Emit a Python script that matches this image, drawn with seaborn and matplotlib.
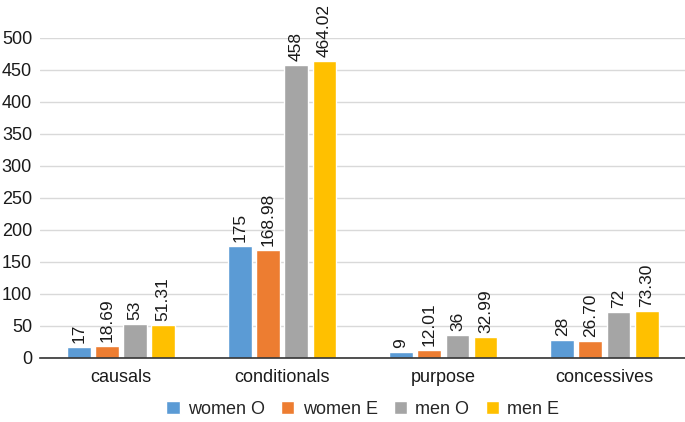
import pandas as pd
import matplotlib.pyplot as plt
import seaborn as sns

sns.set_style("white")
plt.rcParams["font.family"] = ["Liberation Sans", "DejaVu Sans"]

categories = ["causals", "conditionals", "purpose", "concessives"]
series = ["women O", "women E", "men O", "men E"]
women_o = [17, 175, 9, 28]
women_e = [18.69, 168.98, 12.01, 26.70]
men_o = [53, 458, 36, 72]
men_e = [51.31, 464.02, 32.99, 73.30]
labels = {
    "women O": ["17", "175", "9", "28"],
    "women E": ["18.69", "168.98", "12.01", "26.70"],
    "men O": ["53", "458", "36", "72"],
    "men E": ["51.31", "464.02", "32.99", "73.30"],
}
colors = ["#5B9BD5", "#ED7D31", "#A5A5A5", "#FFC000"]
yticks = [0, 50, 100, 150, 200, 250, 300, 350, 400, 450, 500]

rows = []
for name, vals in zip(series, [women_o, women_e, men_o, men_e]):
    for cat, v in zip(categories, vals):
        rows.append({"category": cat, "series": name, "value": v})
df = pd.DataFrame(rows)

fig = plt.figure(figsize=(6.85, 4.22), dpi=100)
ax = fig.add_axes([0.059, 0.152, 0.941, 0.758])

sns.barplot(data=df, x="category", y="value", hue="series", order=categories,
            hue_order=series, palette=colors, width=0.7, gap=0.16, ax=ax,
            saturation=1, legend=True)

for cont, name in zip(ax.containers, series):
    ax.bar_label(cont, labels=labels[name], rotation=90, padding=3,
                 fontsize=12.5, color="#1a1a1a")

ax.set_ylim(0, 500)
ax.set_xlim(-0.5, 3.5)
ax.set_yticks(yticks)
ax.yaxis.grid(True, color="#d9d9d9", linewidth=1)
ax.set_axisbelow(True)
for s in ["top", "right", "left"]:
    ax.spines[s].set_visible(False)
ax.spines["bottom"].set_color("#333333")
ax.spines["bottom"].set_linewidth(1.2)
ax.tick_params(axis="both", length=0, labelsize=13, colors="#1a1a1a")
ax.tick_params(axis="y", pad=6)
ax.tick_params(axis="x", pad=8)
ax.set_xlabel("")
ax.set_ylabel("")

handles, lbls = ax.get_legend_handles_labels()
ax.legend(handles, lbls, loc="upper center", bbox_to_anchor=(0.5, -0.1),
          ncol=4, frameon=False, fontsize=13, handlelength=0.75,
          handleheight=0.75, handletextpad=0.45, columnspacing=0.9,
          borderaxespad=0.2)

fig.savefig("out.png", dpi=100)
